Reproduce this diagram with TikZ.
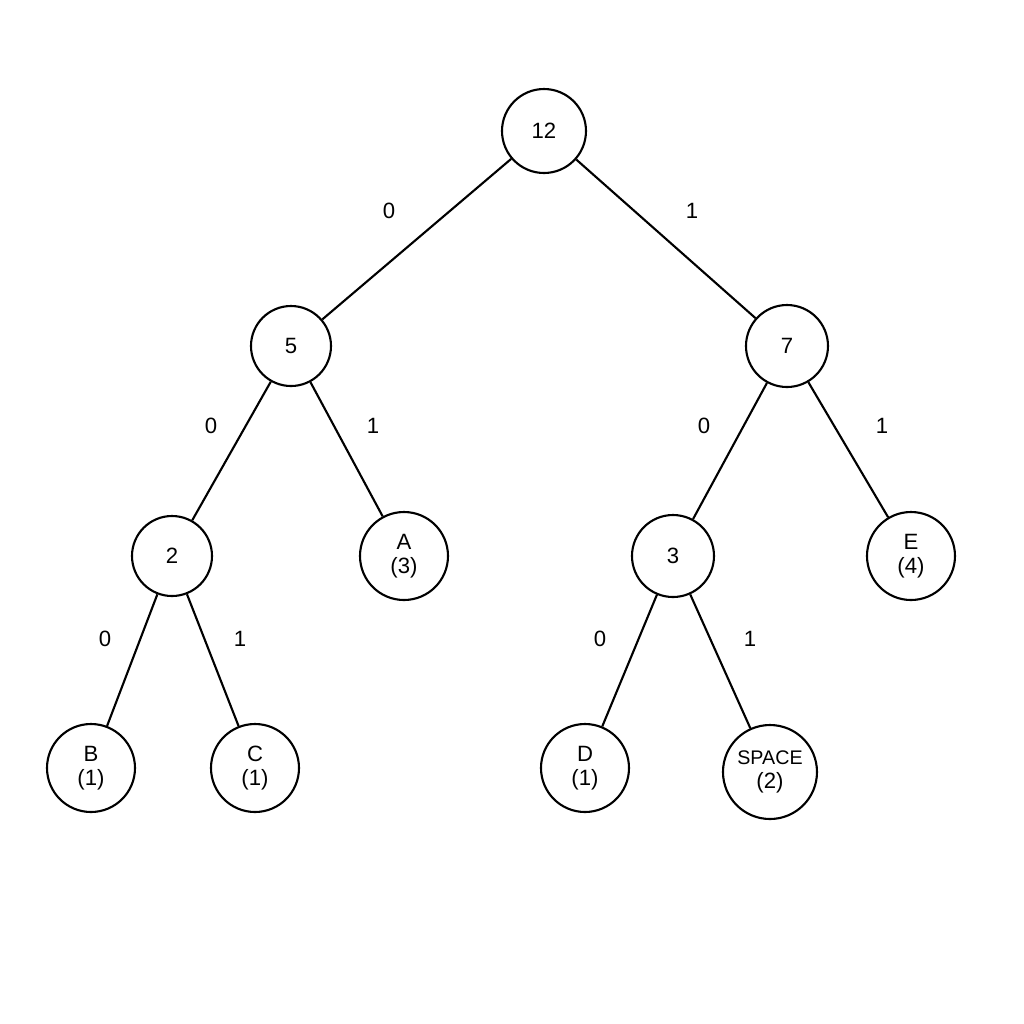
\documentclass[tikz,border=0pt]{standalone}
\usepackage{fontspec}
\setmainfont{Liberation Sans}
\usetikzlibrary{positioning}
\tikzset{
  hnode/.style={circle, draw, line width=0.6pt, inner sep=0pt, font=\fontsize{6.3}{7}\selectfont, align=center},
  bit/.style={font=\fontsize{6.3}{7}\selectfont},
  branch/.style={line width=0.6pt}
}
\begin{document}
\begin{tikzpicture}
      \useasboundingbox (0,0) rectangle (10.24,-10.24);
      % nodes

      %root
      \node[hnode, minimum size=0.84cm] (root) at (5.44,-1.31) {12};%
      %inner
      \node[hnode, minimum size=0.80cm] (five) at (2.91,-3.46) {5};
      \node[hnode, minimum size=0.82cm] (seven) at (7.87,-3.46) {7};
      \node[hnode, minimum size=0.80cm] (two) at (1.72,-5.56) {2};
      \node[hnode, minimum size=0.82cm] (three) at (6.73,-5.56) {3};
      %leaves
      \node[hnode, minimum size=0.88cm] (leafA) at (4.04,-5.56) {A\\(3)};
      \node[hnode, minimum size=0.88cm] (leafE) at (9.11,-5.56) {E\\(4)};
      \node[hnode, minimum size=0.88cm] (leafB) at (0.91,-7.68) {B\\(1)};
      \node[hnode, minimum size=0.88cm] (leafC) at (2.55,-7.68) {C\\(1)};
      \node[hnode, minimum size=0.88cm] (leafD) at (5.85,-7.68) {D\\(1)};
      \node[hnode, minimum size=0.94cm] (leafSpace) at (7.70,-7.72) {{\fontsize{5.6}{6.5}\selectfont SPACE}\\(2)};

      % edges
      \draw[branch] (root) -- (five);
      \draw[branch] (root) -- (seven);
      \draw[branch] (five) -- (two);
      \draw[branch] (five) -- (leafA);
      \draw[branch] (seven) -- (three);
      \draw[branch] (seven) -- (leafE);
      \draw[branch] (two) -- (leafB);
      \draw[branch] (two) -- (leafC);
      \draw[branch] (three) -- (leafD);
      \draw[branch] (three) -- (leafSpace);

      % bit labels
      \node[bit] (b1) at (3.89,-2.11) {0};
      \node[bit] (b2) at (6.92,-2.11) {1};
      \node[bit] (b3) at (2.11,-4.26) {0};
      \node[bit] (b4) at (3.73,-4.26) {1};
      \node[bit] (b5) at (7.04,-4.26) {0};
      \node[bit] (b6) at (8.82,-4.26) {1};
      \node[bit] (b7) at (1.05,-6.39) {0};
      \node[bit] (b8) at (2.40,-6.39) {1};
      \node[bit] (b9) at (6.00,-6.39) {0};
      \node[bit] (b10) at (7.50,-6.39) {1};
\end{tikzpicture}
\end{document}
